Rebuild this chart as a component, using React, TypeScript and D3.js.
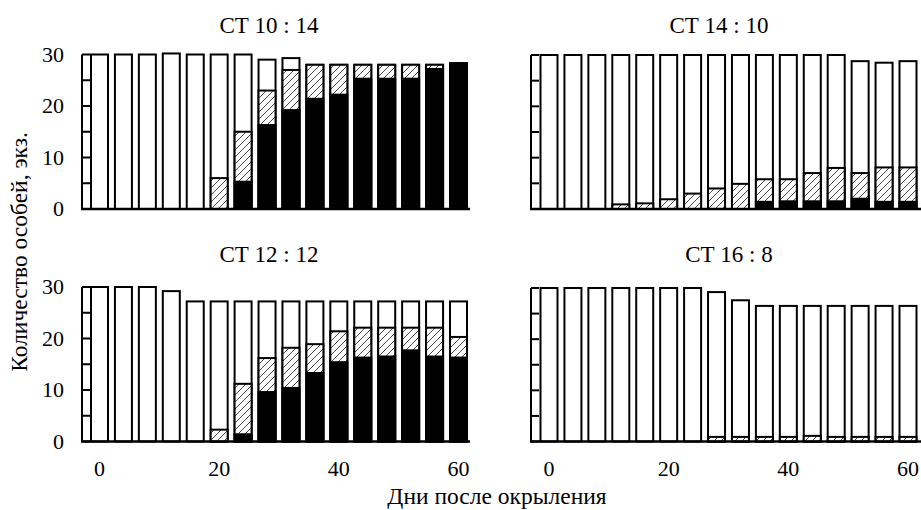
import React from "react";
import * as d3 from "d3";

const days = [0, 4, 8, 12, 16, 20, 24, 28, 32, 36, 40, 44, 48, 52, 56, 60];
const yTicks = [0, 5, 10, 15, 20, 25, 30];
const yTickLabels = [0, 10, 20, 30];
const xTickLabels = [0, 20, 40, 60];
const titles = ["СТ 10 : 14", "СТ 14 : 10", "СТ 12 : 12", "СТ 16 : 8"];
const yAxisTitle = "Количество особей, экз.";
const xAxisTitle = "Дни после окрыления";

// total per bar, black part, black+hatched cumulative top
const total1 = [30, 30, 30, 30.2, 30, 30, 30, 29, 29.3, 28, 28, 28, 28, 28, 28, 28.3];
const hatchTop1 = [0, 0, 0, 0, 0, 6, 15, 23, 27, 28, 28, 28, 28, 28, 28, 28.3];
const black1 = [0, 0, 0, 0, 0, 0, 5.3, 16.3, 19.2, 21.4, 22.2, 25.3, 25.3, 25.3, 27.2, 28.3];

const total2 = [30, 30, 30, 30, 30, 30, 30, 30, 30, 30, 30, 30, 30, 28.8, 28.5, 28.8];
const hatchTop2 = [0, 0, 0, 0.9, 1.1, 1.9, 3, 4, 4.9, 5.8, 5.8, 7, 8, 7, 8.1, 8.1];
const black2 = [0, 0, 0, 0, 0, 0, 0, 0, 0, 1.4, 1.5, 1.5, 1.5, 2, 1.4, 1.4];

const total3 = [30, 30, 30, 29.2, 27.2, 27.2, 27.2, 27.2, 27.2, 27.2, 27.2, 27.2, 27.2, 27.2, 27.2, 27.2];
const hatchTop3 = [0, 0, 0, 0, 0, 2.3, 11.2, 16.2, 18.2, 18.9, 21.4, 22.1, 22.1, 22.1, 22.1, 20.3];
const black3 = [0, 0, 0, 0, 0, 0, 1.4, 9.6, 10.4, 13.3, 15.4, 16.3, 16.5, 17.7, 16.5, 16.3];

const total4 = [30, 30, 30, 30, 30, 30, 30, 29.2, 27.6, 26.5, 26.5, 26.5, 26.5, 26.5, 26.5, 26.5];
const hatchTop4 = [0, 0, 0, 0, 0, 0, 0, 0.9, 0.9, 0.9, 0.9, 1.1, 0.9, 0.9, 0.9, 0.9];
const black4 = [0, 0, 0, 0, 0, 0, 0, 0, 0, 0, 0, 0, 0, 0, 0, 0];

const FONT = "'Liberation Serif', 'Times New Roman', serif";

type PanelProps = {
  total: number[];
  hatchTop: number[];
  black: number[];
  title: string;
  axisX: number;
  day0X: number;
  right: number;
  yZero: number;
  yTop: number;
  titleX: number;
  titleY: number;
  showY: boolean;
  showX: boolean;
};

function Panel(p: PanelProps) {
  const x = d3.scaleLinear().domain([0, 60]).range([p.day0X, p.day0X + 359]);
  const y = d3.scaleLinear().domain([0, 30]).range([p.yZero, p.yTop]);
  const bw = 17; // inner width; outer with stroke = 19
  return (
    <g>
      <text x={p.titleX} y={p.titleY} textAnchor="middle" fontSize={23} fontFamily={FONT}>
        {p.title}
      </text>
      {days.map((d, i) => {
        const cx = x(d);
        const tot = p.total[i];
        const ht = p.hatchTop[i];
        const bl = p.black[i];
        return (
          <g key={d}>
            <rect x={cx - bw / 2} y={y(tot)} width={bw} height={y(0) - y(tot)} fill="#fff" stroke="#000" strokeWidth={2} />
            {ht > 0 && (
              <rect x={cx - bw / 2} y={y(ht)} width={bw} height={y(0) - y(ht)} fill="url(#hatch)" stroke="#000" strokeWidth={2} />
            )}
            {bl > 0 && (
              <rect x={cx - bw / 2} y={y(bl)} width={bw} height={y(0) - y(bl)} fill="#000" stroke="#000" strokeWidth={2} />
            )}
          </g>
        );
      })}
      <line x1={p.axisX} x2={p.axisX} y1={y(30)} y2={y(0)} stroke="#000" strokeWidth={2} />
      {yTicks.map((t) => (
        <line key={t} x1={p.axisX} x2={p.axisX + 8} y1={y(t)} y2={y(t)} stroke="#000" strokeWidth={2} />
      ))}
      <line x1={p.axisX - 1} x2={p.right} y1={y(0)} y2={y(0)} stroke="#000" strokeWidth={2.5} />
      {p.showY &&
        yTickLabels.map((t) => (
          <text key={t} x={p.axisX - 18} y={y(t) + 7} textAnchor="end" fontSize={22} fontFamily={FONT}>
            {t}
          </text>
        ))}
      {p.showX &&
        xTickLabels.map((t) => (
          <text key={t} x={x(t)} y={p.yZero + 34} textAnchor="middle" fontSize={22} fontFamily={FONT}>
            {t}
          </text>
        ))}
    </g>
  );
}

export default function App() {
  return (
    <svg width={921} height={510} style={{ position: "absolute", left: 0, top: 0, background: "#fff" }}>
      <defs>
        <pattern id="hatch" patternUnits="userSpaceOnUse" width={7} height={7}>
          <rect width={7} height={7} fill="#fff" />
          <path d="M-1,1 L1,-1 M0,7 L7,0 M6,8 L8,6" stroke="#333" strokeWidth={0.9} />
        </pattern>
      </defs>
      <Panel total={total1} hatchTop={hatchTop1} black={black1} title={titles[0]} axisX={82} day0X={99.5} right={470} yZero={209} yTop={54.5} titleX={269} titleY={33} showY={true} showX={false} />
      <Panel total={total2} hatchTop={hatchTop2} black={black2} title={titles[1]} axisX={531} day0X={549} right={921} yZero={209} yTop={55} titleX={719} titleY={33} showY={false} showX={false} />
      <Panel total={total3} hatchTop={hatchTop3} black={black3} title={titles[2]} axisX={82} day0X={99.5} right={470} yZero={441.5} yTop={287} titleX={269} titleY={262} showY={true} showX={true} />
      <Panel total={total4} hatchTop={hatchTop4} black={black4} title={titles[3]} axisX={531} day0X={549} right={921} yZero={441.5} yTop={288} titleX={729} titleY={262} showY={false} showX={true} />
      <text transform="translate(27,252) rotate(-90)" textAnchor="middle" fontSize={23.5} fontFamily={FONT}>
        {yAxisTitle}
      </text>
      <text x={497} y={504} textAnchor="middle" fontSize={23.5} fontFamily={FONT}>
        {xAxisTitle}
      </text>
    </svg>
  );
}
